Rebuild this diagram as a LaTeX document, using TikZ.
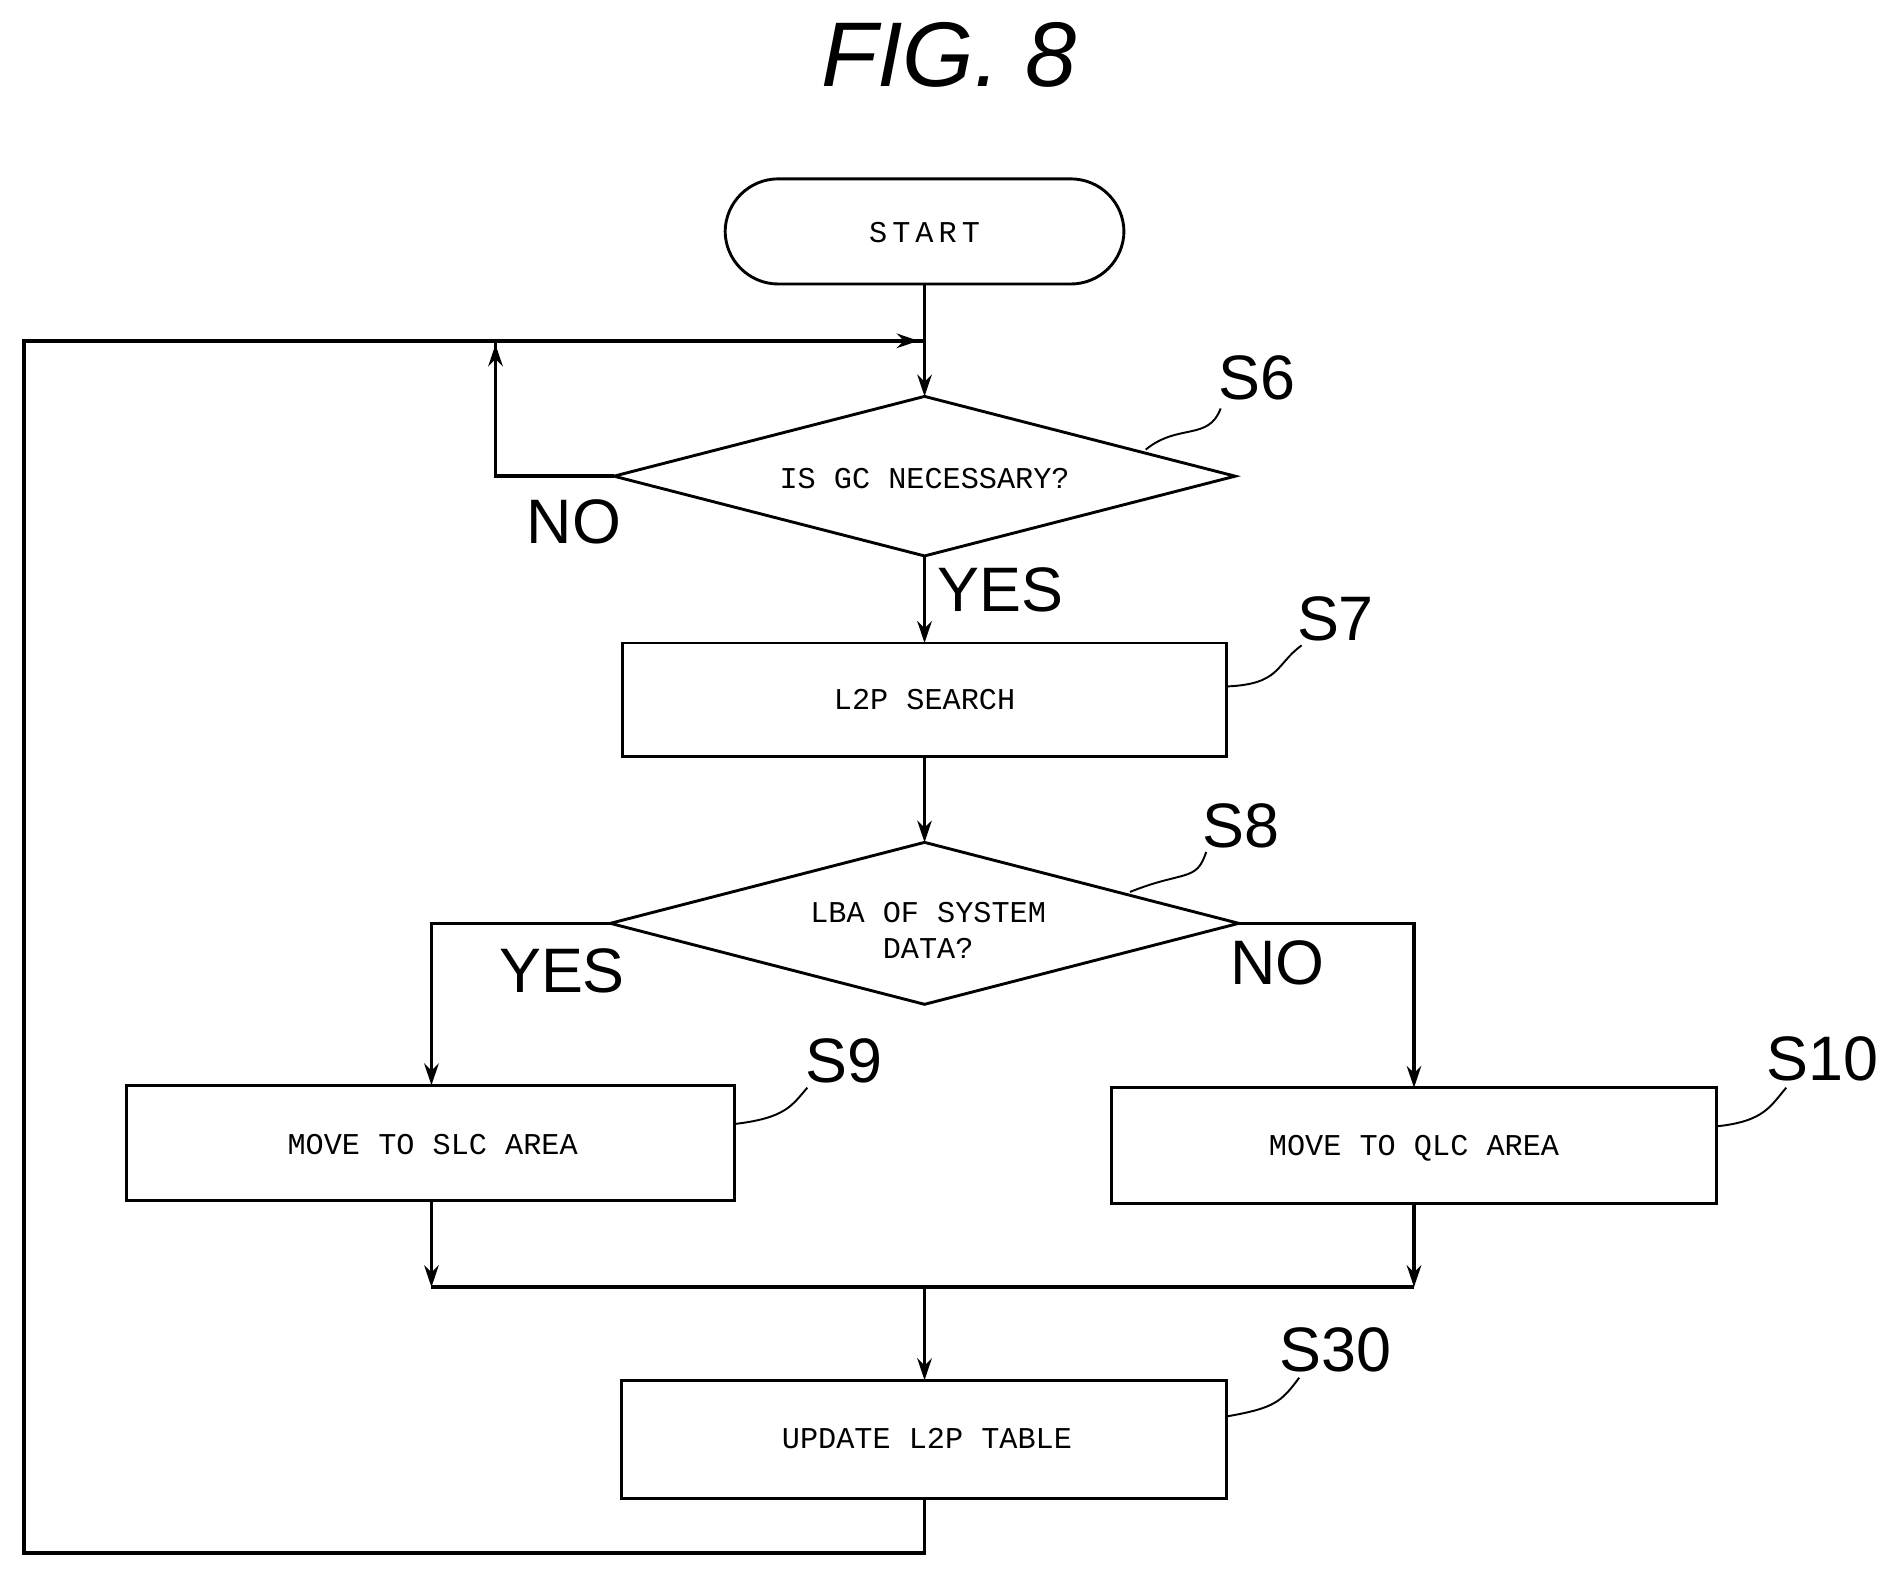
\documentclass[tikz,border=0pt]{standalone}
\usepackage{fontspec}
\setmainfont{Liberation Sans}
\newfontfamily\mono{Liberation Mono}
\usetikzlibrary{arrows.meta}
\begin{document}
\begin{tikzpicture}[x=0.5pt,y=-0.5pt,line width=1.4pt,
  box/.style={draw,line width=1.2pt,font=\mono\fontsize{12.5}{15}\selectfont},
  arr/.style={-{Stealth[length=9pt,width=6pt]}},
  lab/.style={font=\fontsize{26}{28}\selectfont},
  lead/.style={line width=0.8pt}]
\useasboundingbox (0,0) rectangle (1568,1306);
\node[font=\itshape\fontsize{38}{40}\selectfont] (title) at (785,45) {FIG. 8};
\draw[box,rounded corners=22pt] (600,148) rectangle (930,235);
\node[box,draw=none] (start) at (765,192) {S\,T\,A\,R\,T};
\coordinate (st) at (765,235);
\draw[box] (508,394) -- (765,328) -- (1022,394) -- (765,460) -- cycle;
\node[box,draw=none] (s6) at (765,396) {IS GC NECESSARY?};
\draw[box] (515,532) rectangle (1015,626);
\node[box,draw=none] (s7) at (765,579) {L2P SEARCH};
\draw[box] (505,764) -- (765,697) -- (1025,764) -- (765,831) -- cycle;
\node[box,draw=none,align=center] (s8) at (768,770) {LBA OF SYSTEM\\DATA?};
\draw[box] (105,898) rectangle (608,993);
\node[box,draw=none] (s9) at (358,947) {MOVE TO SLC AREA};
\draw[box] (920,900) rectangle (1420,996);
\node[box,draw=none] (s10) at (1170,950) {MOVE TO QLC AREA};
\draw[box] (514,1142) rectangle (1015,1240);
\node[box,draw=none] (s30) at (767,1190) {UPDATE L2P TABLE};
% connectors
\draw[arr] (765,235) -- (765,328);
\draw (765,1240) -- (765,1285) -- (20,1285) -- (20,282) -- (765,282);
\draw[arr] (20,282) -- (760,282);
\draw (508,394) -- (410,394) -- (410,282);
\draw[arr] (410,394) -- (410,285);
\draw[arr] (765,460) -- (765,532);
\draw[arr] (765,626) -- (765,697);
\draw[arr] (505,764) -- (357,764) -- (357,898);
\draw[arr] (1025,764) -- (1170,764) -- (1170,900);
\draw[arr] (357,993) -- (357,1065);
\draw[arr] (1170,996) -- (1170,1065);
\draw (357,1065) -- (1170,1065);
\draw[arr] (765,1065) -- (765,1142);
% labels
\node[lab] (no1) at (475,432) {NO};
\node[lab] (yes1) at (828,488) {YES};
\node[lab] (yes2) at (465,803) {YES};
\node[lab] (no2) at (1057,797) {NO};
\node[lab] (l6) at (1040,313) {S6};
\node[lab] (l7) at (1105,512) {S7};
\node[lab] (l8) at (1027,683) {S8};
\node[lab] (l9) at (698,878) {S9};
\node[lab] (l10) at (1508,876) {S10};
\node[lab] (l30) at (1105,1117) {S30};
\draw[lead] (948,372) .. controls (975,350) and (1000,365) .. (1010,338);
\draw[lead] (1015,568) .. controls (1060,566) and (1055,550) .. (1077,534);
\draw[lead] (935,738) .. controls (980,720) and (990,730) .. (998,705);
\draw[lead] (608,930) .. controls (650,925) and (655,915) .. (668,900);
\draw[lead] (1420,932) .. controls (1460,928) and (1465,915) .. (1478,900);
\draw[lead] (1015,1172) .. controls (1055,1165) and (1060,1160) .. (1075,1140);
\end{tikzpicture}
\end{document}
